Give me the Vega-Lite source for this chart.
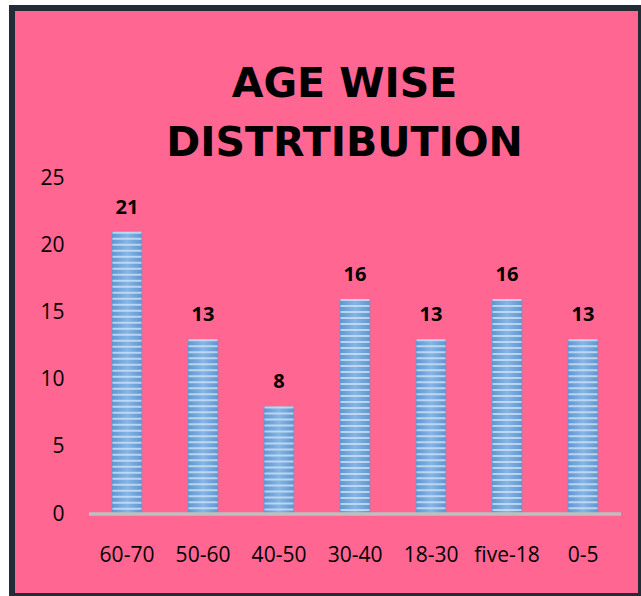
{
  "$schema": "https://vega.github.io/schema/vega-lite/v6.json",
  "autosize": {"type": "none"},
  "padding": {"left": 12, "top": 8, "right": 0, "bottom": 0},
  "width": 629,
  "height": 588,
  "background": "#ffffff",
  "config": {
    "view": {"fill": "#FF6691", "stroke": "#232B36", "strokeWidth": 6},
    "axis": {"grid": false, "ticks": false, "domain": false, "title": null, "labelFont": "Open Sans", "labelFontSize": 21, "labelColor": "#000000"}
  },
  "title": {
    "text": ["AGE WISE", "DISTRTIBUTION"],
    "font": "DejaVu Sans",
    "fontSize": 41,
    "fontWeight": "bold",
    "color": "#000000",
    "anchor": "middle",
    "frame": "group",
    "baseline": "bottom",
    "lineHeight": 59,
    "offset": -198,
    "dx": 18
  },
  "data": {
    "values": [
      {"age": "60-70", "count": 21},
      {"age": "50-60", "count": 13},
      {"age": "40-50", "count": 8},
      {"age": "30-40", "count": 16},
      {"age": "18-30", "count": 13},
      {"age": "five-18", "count": 16},
      {"age": "0-5", "count": 13}
    ]
  },
  "layer": [
    {
      "mark": {
        "type": "bar",
        "color": {
          "gradient": "linear", "x1": 0, "x2": 1, "y1": 0, "y2": 0,
          "stops": [
            {"offset": 0, "color": "#5F95D0"},
            {"offset": 0.5, "color": "#86B5E5"},
            {"offset": 1, "color": "#5F95D0"}
          ]
        }
      },
      "encoding": {
        "x": {
          "field": "age", "type": "nominal", "sort": null,
          "scale": {"domain": ["60-70", "50-60", "40-50", "30-40", "18-30", "five-18", "0-5"], "paddingInner": 0.6, "paddingOuter": 0.938, "align": 0.7},
          "axis": {"orient": "bottom", "offset": -35, "labelPadding": 0, "labelBaseline": "alphabetic", "labelAngle": 0}
        },
        "y": {
          "field": "count", "type": "quantitative",
          "scale": {"domain": [-6.1, 37.65], "nice": false, "zero": false},
          "axis": {"values": [0, 5, 10, 15, 20, 25], "offset": -52, "labelPadding": 0}
        }
      }
    },
    {
      "mark": {"type": "rule", "color": "#D3E6F8", "opacity": 0.75, "strokeWidth": 29, "strokeDash": [2, 4], "strokeCap": "butt"},
      "encoding": {
        "x": {"field": "age", "type": "nominal", "sort": null},
        "y": {"field": "count", "type": "quantitative"},
        "y2": {"datum": 0}
      }
    },
    {
      "data": {"values": [{"from": "60-70", "to": "0-5", "base": 0}]},
      "mark": {"type": "rule", "color": "#BFBFBF", "strokeWidth": 3.5},
      "encoding": {
        "x": {"field": "from", "type": "nominal", "sort": null, "bandPosition": -0.75},
        "x2": {"field": "to", "bandPosition": 1.75},
        "y": {"field": "base", "type": "quantitative"}
      }
    },
    {
      "mark": {"type": "text", "font": "Open Sans", "fontSize": 20, "fontWeight": "bold", "color": "#000000", "baseline": "alphabetic", "dy": -18},
      "encoding": {
        "x": {"field": "age", "type": "nominal", "sort": null},
        "y": {"field": "count", "type": "quantitative"},
        "text": {"field": "count", "type": "quantitative"}
      }
    }
  ]
}
